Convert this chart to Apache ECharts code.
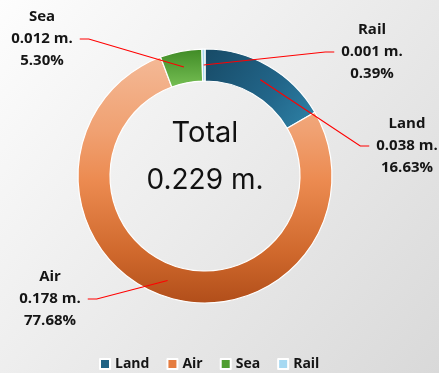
<!DOCTYPE html>
<html>
<head>
<meta charset="utf-8">
<style>
  html, body { margin: 0; padding: 0; }
  #chart { width: 439px; height: 373px; }
</style>
<script src="https://cdn.jsdelivr.net/npm/echarts@6/dist/echarts.min.js"></script>
</head>
<body>
<div id="chart"></div>
<script>
// Freight volume by transport mode (million tonnes) and share of total
const categories = ['Land', 'Air', 'Sea', 'Rail'];
const shares = [16.63, 77.68, 5.30, 0.39];          // percent of total
const amounts = [0.038, 0.178, 0.012, 0.001];       // million
const totalAmount = 0.229;                          // million

// Label placement (text centre) for each mode, in pixels
const labelAnchors = [
  { x: 407, y: 146, side: 'right' },   // Land
  { x: 50,  y: 299, side: 'left' },    // Air
  { x: 42,  y: 39,  side: 'left' },    // Sea
  { x: 372, y: 52,  side: 'right' }    // Rail
];

const G = echarts.graphic;
const fills = [
  new G.LinearGradient(0, 0, 1, 1, [
    { offset: 0, color: '#174a66' },
    { offset: 0.6, color: '#22668a' },
    { offset: 1, color: '#2f84a8' }
  ]),
  new G.LinearGradient(0, 0, 0, 1, [
    { offset: 0, color: '#f4b996' },
    { offset: 0.3, color: '#f0a172' },
    { offset: 0.5, color: '#ec8b51' },
    { offset: 0.8, color: '#cf682c' },
    { offset: 1, color: '#b14e1a' }
  ]),
  new G.LinearGradient(0, 0, 0, 1, [
    { offset: 0, color: '#3f8a25' },
    { offset: 1, color: '#76bf54' }
  ]),
  new G.LinearGradient(0, 0, 1, 0, [
    { offset: 0, color: '#8cc9e8' },
    { offset: 1, color: '#c4e6f6' }
  ])
];
const legendColors = ['#1f6284', '#e57c40', '#4f9e30', '#a6d9f2'];

const ringData = categories.map((name, i) => ({
  name: name,
  value: shares[i],
  itemStyle: { color: fills[i] }
}));

const labelData = categories.map((name, i) => ({
  name: name,
  value: shares[i],
  amount: amounts[i]
}));

const chart = echarts.init(document.getElementById('chart'), null, { renderer: 'canvas' });

const CX = 205, CY = 176;

chart.setOption({
  animation: false,
  backgroundColor: new G.LinearGradient(0, 0, 1, 1, [
    { offset: 0, color: '#fdfdfd' },
    { offset: 1, color: '#d9d9d9' }
  ]),
  legend: {
    data: categories.map((n, i) => ({ name: n, itemStyle: { color: legendColors[i] } })),
    left: 99,
    top: 357,
    padding: 0,
    icon: 'rect',
    itemWidth: 10,
    itemHeight: 10,
    itemGap: 17,
    textStyle: {
      fontFamily: 'Open Sans',
      fontWeight: 'bold',
      fontSize: 14,
      color: '#151515'
    }
  },
  graphic: [
    {
      type: 'text', x: CX, y: 133,
      style: {
        text: 'Total', font: '400 29px Inter', fill: '#111',
        textAlign: 'center', textVerticalAlign: 'middle'
      }
    },
    {
      type: 'text', x: CX, y: 181,
      style: {
        text: totalAmount.toFixed(3) + ' m.', font: '400 28px Inter', fill: '#111',
        textAlign: 'center', textVerticalAlign: 'middle'
      }
    }
  ],
  series: [
    {
      type: 'pie',
      z: 2,
      center: [CX, CY],
      radius: [95, 127],
      startAngle: 90,
      clockwise: true,
      silent: true,
      label: { show: false },
      labelLine: { show: false },
      emphasis: { disabled: true },
      itemStyle: { borderColor: '#ffffff', borderWidth: 1.2 },
      data: ringData
    },
    {
      // transparent companion ring drawn on top: its label lines start mid-band
      type: 'pie',
      z: 5,
      center: [CX, CY],
      radius: [0, 111],
      startAngle: 90,
      clockwise: true,
      silent: true,
      avoidLabelOverlap: false,
      emphasis: { disabled: true },
      itemStyle: { color: 'rgba(0,0,0,0)' },
      label: {
        show: true,
        position: 'outside',
        fontFamily: 'Open Sans',
        fontWeight: 'bold',
        fontSize: 15,
        lineHeight: 22,
        color: '#151515',
        align: 'center',
        formatter: p => p.name + '\n' + p.data.amount.toFixed(3) + ' m.\n' + p.value.toFixed(2) + '%'
      },
      labelLine: {
        show: true,
        length: 10,
        length2: 10,
        lineStyle: { color: '#ff0000', width: 1.2 }
      },
      labelLayout: function (params) {
        const a = labelAnchors[params.dataIndex];
        const half = params.labelRect.width / 2;
        const dir = a.side === 'left' ? 1 : -1;
        const endX = a.x + dir * (half + 7);
        const elbowX = endX + dir * 9;
        const start = params.labelLinePoints[0];
        return {
          x: a.x,
          y: a.y,
          align: 'center',
          verticalAlign: 'middle',
          labelLinePoints: [start, [elbowX, a.y], [endX, a.y]]
        };
      },
      data: labelData
    }
  ]
});
</script>
</body>
</html>
